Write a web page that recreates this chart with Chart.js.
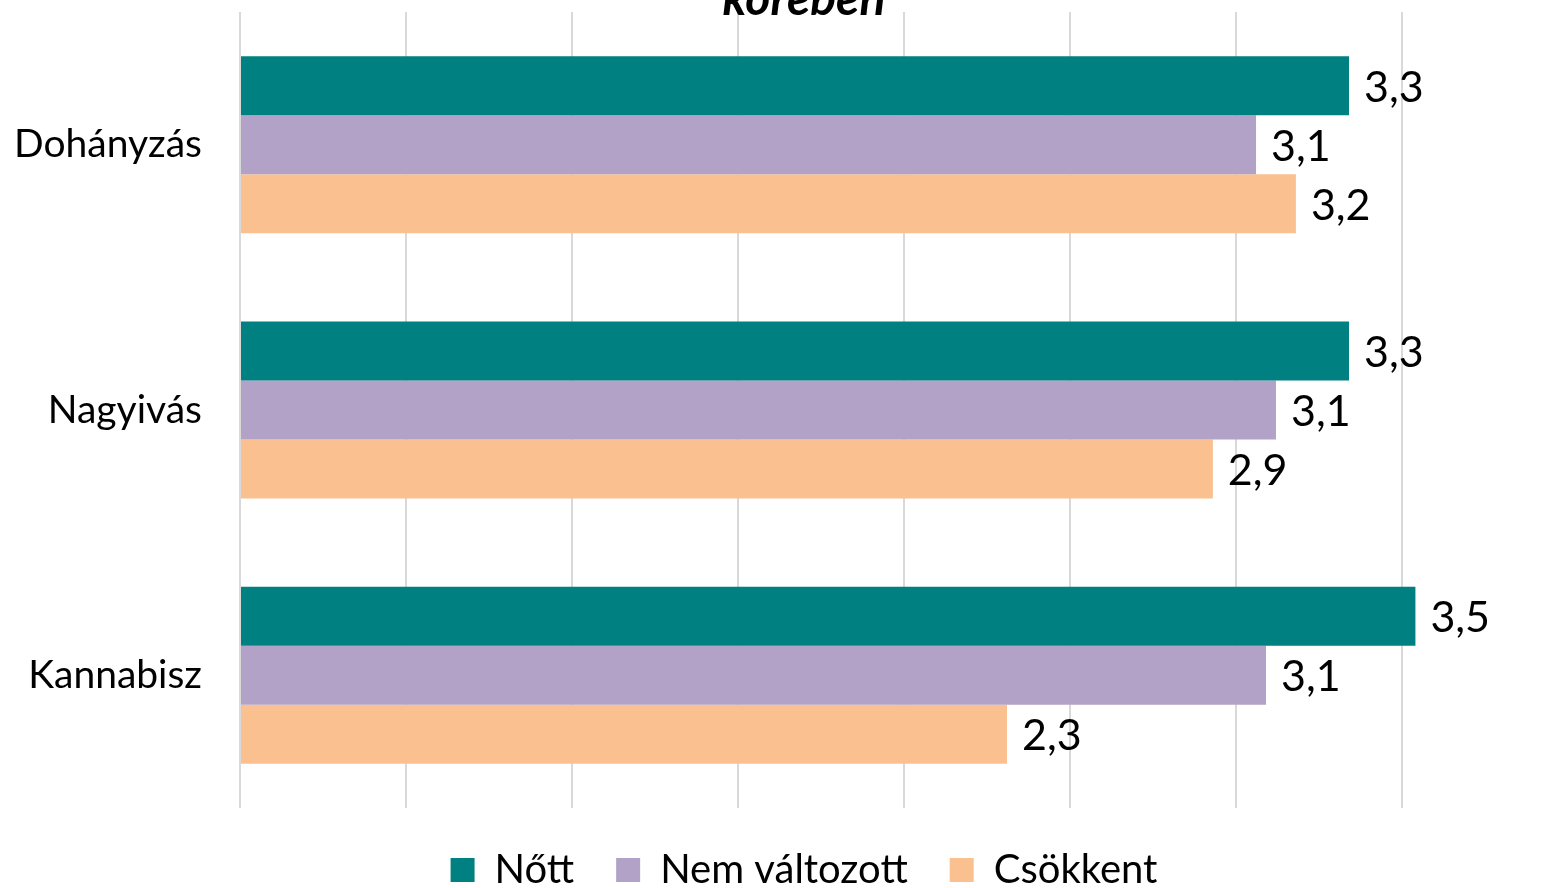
<!DOCTYPE html>
<html>
<head>
<meta charset="utf-8">
<script src="https://cdn.jsdelivr.net/npm/chart.js@4.4.1/dist/chart.umd.min.js"></script>
<style>
  html, body { margin: 0; padding: 0; background: #fff; overflow: hidden; width: 1556px; height: 888px; }
  #chart { position: absolute; left: 0; top: -60px; }
</style>
</head>
<body>
<canvas id="chart" width="1608" height="960"></canvas>
<script>
const categories = ['Dohányzás', 'Nagyivás', 'Kannabisz'];
const seriesNames = ['Nőtt', 'Nem változott', 'Csökkent'];
const nottValues = [3.34, 3.34, 3.54];
const nemValtozottValues = [3.06, 3.12, 3.09];
const csokkentValues = [3.18, 2.93, 2.31];
const seriesColors = ['#008080', '#B3A2C7', '#FAC090'];
const titleText = 'körében';

const FONT = "Lato, 'Open Sans', sans-serif";

// value labels at the end of each bar, Hungarian decimal comma
const barValueLabels = {
    id: 'barValueLabels',
    afterDatasetsDraw(chart) {
        const ctx = chart.ctx;
        ctx.save();
        ctx.font = '43px ' + FONT;
        ctx.fillStyle = '#000';
        ctx.textAlign = 'left';
        ctx.textBaseline = 'middle';
        chart.data.datasets.forEach((ds, i) => {
            chart.getDatasetMeta(i).data.forEach((bar, j) => {
                const txt = ds.data[j].toFixed(1).replace('.', ',');
                ctx.fillText(txt, bar.x + 15, bar.y + 2);
            });
        });
        ctx.restore();
    }
};

const ctx = document.getElementById('chart').getContext('2d');
const chart = new Chart(ctx, {
    type: 'bar',
    data: {
        labels: categories,
        datasets: [
            { label: seriesNames[0], data: nottValues, backgroundColor: seriesColors[0] },
            { label: seriesNames[1], data: nemValtozottValues, backgroundColor: seriesColors[1] },
            { label: seriesNames[2], data: csokkentValues, backgroundColor: seriesColors[2] }
        ]
    },
    options: {
        indexAxis: 'y',
        responsive: false,
        animation: false,
        devicePixelRatio: 1,
        datasets: {
            bar: { barPercentage: 1, categoryPercentage: 0.667, borderWidth: 0 }
        },
        layout: {
            padding: { top: 36, left: 0, right: 0, bottom: 0 }
        },
        scales: {
            x: {
                min: 0,
                max: 4.12, // plot runs on past the right edge of the picture
                ticks: { display: false, stepSize: 0.5 },
                grid: { color: '#D9D9D9', lineWidth: 2, drawTicks: false },
                border: { display: false }
            },
            y: {
                ticks: {
                    padding: 38,
                    color: '#000',
                    font: { family: FONT, size: 39 }
                },
                grid: { display: false, drawTicks: false },
                border: { display: false },
                afterFit(scale) { scale.width = 240; }
            }
        },
        plugins: {
            title: {
                display: true,
                text: titleText,
                color: '#000',
                font: { family: FONT, size: 48, weight: 'bold', style: 'italic', lineHeight: 1 },
                padding: { top: 0, bottom: -12 }
            },
            legend: {
                position: 'bottom',
                labels: {
                    boxWidth: 24,
                    boxHeight: 24,
                    padding: 42,
                    color: '#000',
                    font: { family: FONT, size: 40 }
                }
            },
            tooltip: { enabled: false }
        }
    },
    plugins: [barValueLabels]
});
</script>
</body>
</html>
